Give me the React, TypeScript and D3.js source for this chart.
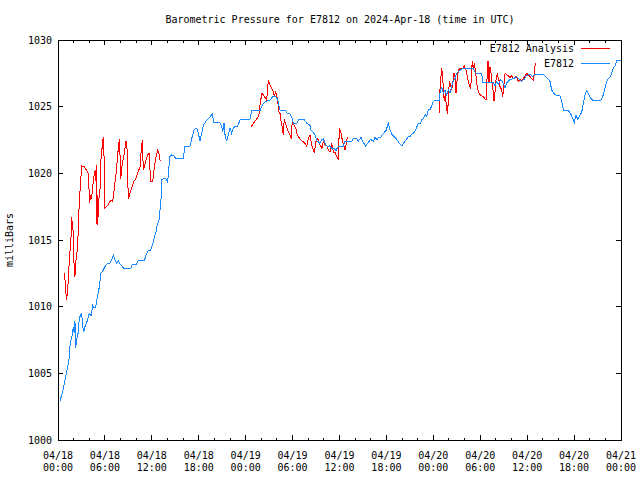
import React from "react";
import * as d3 from "d3";

// Time in hours since 2024-04-18 00:00 UTC; pressure in millibars
const stationHours = [
  0.26, 0.55, 0.9, 1.24, 1.41, 1.57, 1.75, 1.96, 2.08, 2.17, 2.26, 2.39, 2.6, 2.72, 2.94, 3.03, 3.16, 3.29, 3.45, 3.67,
  3.88, 4.0, 4.22, 4.44, 4.64, 4.82, 4.95, 5.15, 5.28, 5.5, 5.79, 6.01, 6.23, 6.65, 6.87, 7.07, 7.29, 7.51, 7.71, 7.93,
  8.15, 8.35, 9.34, 9.5, 10.06, 10.27, 11.04, 11.34, 11.55, 11.86, 12.06, 12.28, 12.53, 12.62, 12.92, 13.17, 13.26, 13.47, 13.81, 13.98,
  14.11, 14.2, 14.32, 14.54, 14.84, 15.05, 16.02, 16.24, 16.88, 17.1, 17.39, 17.74, 17.94, 18.16, 18.38, 18.58, 18.8, 19.02, 19.22, 19.53,
  19.73, 19.95, 20.72, 20.94, 21.06, 21.23, 21.36, 21.57, 21.78, 22.0, 22.21, 22.42, 22.64, 22.93, 23.28, 24.55, 24.77, 25.83, 26.05, 26.26,
  26.77, 27.11, 27.53, 27.84, 28.1, 28.39, 29.16, 29.33, 29.67, 29.96, 30.09, 30.53, 30.82, 31.46, 31.81, 32.23, 32.36, 32.65, 32.87, 33.09,
  33.51, 33.72, 33.93, 34.15, 34.44, 34.7, 35.0, 35.3, 35.55, 35.85, 36.49, 36.7, 37.56, 37.77, 38.2, 38.41, 38.75, 38.97, 39.35, 39.68,
  39.99, 40.32, 40.54, 40.8, 41.0, 41.27, 41.53, 41.95, 42.24, 42.46, 42.68, 42.97, 43.32, 43.65, 43.96, 44.16, 44.51, 44.8, 45.02, 45.23,
  45.53, 45.87, 46.08, 46.3, 46.51, 46.72, 46.94, 47.15, 47.36, 47.57, 47.79, 48.0, 48.21, 48.73, 48.85, 49.07, 49.28, 49.49, 49.71, 49.92,
  50.13, 50.35, 50.55, 50.77, 50.9, 51.07, 51.32, 51.63, 51.92, 53.11, 53.33, 53.46, 54.19, 54.32, 55.67, 55.89, 56.11, 56.31, 56.62, 56.95,
  57.17, 57.39, 57.81, 58.23, 58.66, 59.0, 59.3, 59.6, 59.85, 60.15, 60.45, 60.71, 61.0, 62.07, 62.28, 62.71, 62.92, 63.14, 63.34, 63.56,
  64.2, 64.42, 64.62, 65.26, 65.57, 65.77, 66.03, 66.25, 66.46, 66.67, 66.98, 67.18, 67.4, 67.61, 67.82, 68.04, 68.38, 69.44, 69.74, 69.96,
  70.17, 70.38, 70.6, 70.81, 71.02, 71.23, 71.45, 71.66, 71.97,
];
const stationMb = [
  1002.95, 1003.5, 1004.5, 1005.5, 1006.1, 1007.3, 1007.65, 1008.5, 1008.0, 1008.9, 1006.9, 1007.5, 1008.1, 1009.15, 1009.4, 1009.5, 1008.5, 1008.1, 1008.5, 1008.8,
  1009.25, 1009.5, 1009.3, 1010.1, 1009.9, 1010.0, 1010.5, 1011.0, 1011.5, 1012.5, 1012.75, 1013.0, 1013.2, 1013.25, 1013.5, 1013.9, 1013.5, 1013.25, 1013.45, 1013.2,
  1013.1, 1012.9, 1012.9, 1013.2, 1013.2, 1013.45, 1013.45, 1014.0, 1014.2, 1014.25, 1014.6, 1015.1, 1015.6, 1016.0, 1016.5, 1018.0, 1019.5, 1019.6, 1019.6, 1019.4,
  1019.75, 1020.6, 1021.25, 1021.4, 1021.3, 1021.1, 1021.1, 1022.0, 1022.05, 1022.6, 1023.25, 1023.4, 1023.0, 1022.45, 1023.0, 1023.6, 1023.8, 1024.0, 1024.1, 1024.3,
  1024.45, 1023.8, 1023.8, 1023.5, 1023.1, 1023.75, 1022.9, 1022.4, 1022.9, 1023.4, 1023.0, 1023.4, 1023.5, 1023.5, 1024.0, 1024.05, 1024.7, 1024.7, 1025.0, 1025.25,
  1025.45, 1025.5, 1025.8, 1025.8, 1025.5, 1024.75, 1024.7, 1024.5, 1024.45, 1024.1, 1023.75, 1023.75, 1024.05, 1024.05, 1023.75, 1023.6, 1023.25, 1023.05, 1022.9, 1022.45,
  1022.25, 1022.5, 1022.6, 1022.25, 1022.0, 1022.05, 1021.9, 1021.9, 1021.7, 1022.05, 1022.05, 1022.4, 1022.4, 1022.6, 1022.6, 1022.4, 1022.7, 1022.4, 1022.05, 1022.3,
  1022.55, 1022.4, 1022.7, 1022.5, 1022.7, 1022.7, 1022.95, 1023.2, 1023.75, 1023.25, 1022.95, 1022.75, 1022.55, 1022.25, 1022.05, 1022.25, 1022.5, 1022.75, 1022.75, 1022.95,
  1023.05, 1023.45, 1023.75, 1023.7, 1024.0, 1024.1, 1024.4, 1024.3, 1024.8, 1024.75, 1025.05, 1025.4, 1025.45, 1025.45, 1026.0, 1026.5, 1026.0, 1026.25, 1025.9, 1026.25,
  1026.0, 1026.55, 1026.9, 1027.1, 1027.4, 1027.55, 1027.7, 1027.8, 1027.9, 1027.9, 1027.6, 1027.5, 1027.5, 1026.8, 1026.8, 1026.55, 1026.9, 1026.7, 1027.05, 1026.75,
  1026.4, 1026.8, 1027.05, 1027.1, 1027.25, 1027.05, 1026.9, 1027.05, 1027.3, 1027.4, 1027.4, 1027.25, 1027.45, 1027.45, 1027.3, 1027.05, 1026.9, 1026.25, 1026.05, 1025.9,
  1025.8, 1025.4, 1024.75, 1024.7, 1024.45, 1024.2, 1023.8, 1024.4, 1024.05, 1024.25, 1024.6, 1025.25, 1025.9, 1026.2, 1026.0, 1025.7, 1025.5, 1025.5, 1025.9, 1026.4,
  1026.9, 1027.1, 1027.25, 1027.5, 1027.9, 1028.05, 1028.45, 1028.5, 1028.5,
];

// Analysis series, null marks a gap in the record
const analysisHours = [
  0.81, 0.9, 1.02, 1.11, 1.19, 1.32, 1.41, 1.53, 1.66, 1.75, 1.96, 2.05, 2.17, 2.26, 2.39, 2.52, 2.6, 2.72, 2.9, 3.03,
  3.33, 3.67, 3.88, 3.96, 4.05, 4.18, 4.31, 4.39, 4.51, 4.64, 4.77, 4.86, 4.9, 4.99, 5.08, 5.15, 5.24, 5.37, 5.5, 5.67,
  5.79, 5.88, 6.01, 6.23, 6.52, 6.78, 6.94, 7.07, 7.2, 7.38, 7.51, 7.63, 7.76, 7.84, 7.93, 8.02, 8.15, 8.27, 8.44, 8.57,
  8.7, 8.82, 8.91, 8.99, 9.21, 9.43, 9.72, 9.94, 10.19, 10.49, 10.61, 10.78, 10.91, 11.04, 11.22, 11.47, 11.64, 11.77, 11.89, 12.11,
  12.28, 12.49, 12.75, 12.88, 12.96, 13.08,
  18.0,
  24.68, 24.98, 25.32, 25.62, 25.74, 25.83, 25.96, 26.05, 26.26, 26.47, 26.69, 26.77, 26.9, 27.11, 27.33, 27.53, 27.66, 27.84, 27.97, 28.1,
  28.26, 28.39, 28.52, 28.69, 28.81, 28.94, 29.07, 29.25, 29.45, 29.67, 29.84, 29.96, 30.18, 30.4, 30.6, 30.95, 31.3, 31.59, 31.81, 32.01,
  32.23, 32.45, 32.65, 32.78, 33.0, 33.16, 33.29, 33.42, 33.6, 33.72, 33.85, 33.93, 34.15, 34.36, 34.57, 34.79, 35.0, 35.21, 35.43, 35.64,
  35.85, 35.98, 36.16, 36.36, 36.58, 36.7, 36.83, 37.0,
  42.0,
  48.73, 48.76, 48.94, 49.07, 49.2, 49.28, 49.4, 49.53, 49.66, 49.79, 49.92, 50.04, 50.22, 50.35, 50.48, 50.64, 50.77, 50.9, 51.07, 51.19,
  51.41, 51.83, 51.96, 52.18, 52.39, 52.6, 52.78, 52.91, 52.99, 53.11, 53.24, 53.42, 53.55, 53.76, 53.97, 54.39, 54.74, 54.9, 54.99, 55.12,
  55.25, 55.38, 55.5, 55.63, 55.76, 55.89, 56.02, 56.18, 56.31, 56.44, 56.53, 56.75, 56.87, 57.04, 57.17, 57.39, 57.59, 57.81, 58.02, 58.23,
  58.45, 58.66, 58.87, 59.08, 59.3, 59.51, 59.72, 59.94, 60.15, 60.36, 60.58, 60.79, 60.92, 61.04,
];
const analysisMb: (number | null)[] = [
  1012.55, 1012.0, 1011.0, 1010.5, 1011.0, 1012.0, 1013.05, 1014.1, 1015.1, 1016.7, 1015.5, 1013.25, 1012.25, 1013.4, 1013.75, 1014.9, 1015.75, 1017.9, 1019.4, 1020.55,
  1020.5, 1020.2, 1020.0, 1018.9, 1017.75, 1018.4, 1018.1, 1018.75, 1019.4, 1019.9, 1020.25, 1019.4, 1020.6, 1016.1, 1018.4, 1016.75, 1018.1, 1018.75, 1021.1, 1022.1,
  1022.75, 1021.4, 1017.4, 1017.5, 1017.75, 1018.0, 1017.9, 1018.1, 1018.9, 1019.75, 1020.5, 1021.4, 1022.1, 1022.55, 1021.4, 1019.6, 1020.4, 1020.9, 1021.4, 1021.9,
  1022.4, 1022.0, 1019.9, 1018.1, 1018.5, 1018.9, 1019.4, 1019.6, 1020.0, 1020.5, 1021.5, 1022.5, 1020.25, 1020.5, 1020.9, 1021.4, 1021.5, 1020.25, 1019.4, 1019.4,
  1020.25, 1021.1, 1021.75, 1021.6, 1021.25, 1020.9,
  null,
  1023.45, 1023.75, 1024.0, 1024.25, 1024.5, 1025.1, 1025.6, 1026.0, 1025.9, 1025.7, 1025.5, 1026.1, 1027.0, 1026.6, 1026.4, 1026.1, 1025.8, 1026.1, 1025.9, 1025.4,
  1024.6, 1024.5, 1023.9, 1023.4, 1022.9, 1024.1, 1023.75, 1023.5, 1023.1, 1022.9, 1022.6, 1024.0, 1023.6, 1023.4, 1022.9, 1022.55, 1022.4, 1022.25, 1022.05, 1022.6,
  1022.9, 1022.1, 1021.75, 1021.6, 1022.4, 1022.6, 1022.5, 1022.25, 1022.05, 1021.9, 1022.0, 1022.6, 1022.1, 1022.1, 1021.75, 1021.6, 1022.25, 1021.6, 1021.6, 1021.25,
  1021.0, 1023.4, 1023.1, 1022.5, 1022.0, 1021.75, 1022.1, 1022.75,
  null,
  1024.5, 1025.5, 1027.0, 1027.9, 1027.25, 1026.25, 1025.4, 1026.0, 1025.1, 1024.45, 1025.4, 1026.9, 1026.6, 1026.25, 1026.75, 1027.5, 1027.25, 1026.05, 1027.2, 1027.7,
  1027.9, 1027.9, 1028.05, 1027.75, 1027.1, 1026.6, 1026.3, 1027.9, 1028.45, 1027.75, 1028.25, 1027.5, 1026.75, 1026.1, 1025.9, 1025.75, 1025.5, 1027.5, 1028.45, 1026.75,
  1028.0, 1027.5, 1026.9, 1026.25, 1025.4, 1026.1, 1027.0, 1027.5, 1027.1, 1026.9, 1026.5, 1026.25, 1025.75, 1026.75, 1027.5, 1027.4, 1027.3, 1027.2, 1027.3, 1027.1,
  1027.25, 1027.2, 1026.9, 1027.05, 1026.95, 1027.1, 1027.3, 1027.5, 1027.4, 1027.25, 1027.1, 1027.0, 1027.5, 1028.3,
];

const xTickHours = [0, 6, 12, 18, 24, 30, 36, 42, 48, 54, 60, 66, 72];
const xTickDates = ["04/18", "04/18", "04/18", "04/18", "04/19", "04/19", "04/19", "04/19", "04/20", "04/20", "04/20", "04/20", "04/21"];
const xTickTimes = ["00:00", "06:00", "12:00", "18:00", "00:00", "06:00", "12:00", "18:00", "00:00", "06:00", "12:00", "18:00", "00:00"];
const yTicks = [1000, 1005, 1010, 1015, 1020, 1025, 1030];
const seriesNames = ["E7812 Analysis", "E7812"];
const seriesColors = ["#ff0000", "#1a88ff"];

const W = 640;
const H = 480;
const L = 58;
const R = 621;
const T = 40;
const B = 440;
const FONT = "'DejaVu Sans Mono', monospace";

export default function App() {
  const x = d3.scaleLinear().domain([0, 72]).range([L, R]);
  const y = d3.scaleLinear().domain([1000, 1030]).range([B, T]);

  const stationData = stationHours.map((h, i) => ({ h, v: stationMb[i] as number | null }));
  const analysisData = analysisHours.map((h, i) => ({ h, v: analysisMb[i] }));

  const line = d3
    .line<{ h: number; v: number | null }>()
    .defined((d) => d.v !== null)
    .x((d) => x(d.h))
    .y((d) => y(d.v as number));

  const minorHours = d3.range(0, 73, 2).filter((h) => h % 6 !== 0);

  return (
    <svg
      width={W}
      height={H}
      style={{ position: "absolute", left: 0, top: 0, background: "#fff" }}
      fontFamily={FONT}
      fontSize={10}
    >
      <rect x={0} y={0} width={W} height={H} fill="#fff" />
      {/* ticks */}
      <g stroke="#000" strokeWidth={1} shapeRendering="crispEdges">
        {xTickHours.map((h) => (
          <g key={"xt" + h}>
            <line x1={x(h)} x2={x(h)} y1={B} y2={B - 5} />
            <line x1={x(h)} x2={x(h)} y1={T} y2={T + 5} />
          </g>
        ))}
        {minorHours.map((h) => (
          <g key={"xm" + h}>
            <line x1={x(h)} x2={x(h)} y1={B} y2={B - 2.5} />
            <line x1={x(h)} x2={x(h)} y1={T} y2={T + 2.5} />
          </g>
        ))}
        {yTicks.map((v) => (
          <g key={"yt" + v}>
            <line x1={L} x2={L + 5} y1={y(v)} y2={y(v)} />
            <line x1={R} x2={R - 5} y1={y(v)} y2={y(v)} />
          </g>
        ))}
      </g>
      {/* series */}
      <path
        d={line(analysisData) || ""}
        fill="none"
        stroke={seriesColors[0]}
        strokeWidth={1}
        shapeRendering="crispEdges"
      />
      <path
        d={line(stationData) || ""}
        fill="none"
        stroke={seriesColors[1]}
        strokeWidth={1}
        shapeRendering="crispEdges"
      />
      {/* frame */}
      <rect
        x={L}
        y={T}
        width={R - L}
        height={B - T}
        fill="none"
        stroke="#000"
        strokeWidth={1}
        shapeRendering="crispEdges"
      />
      {/* y labels */}
      {yTicks.map((v) => (
        <text key={"yl" + v} x={52} y={y(v)} dy="0.35em" textAnchor="end" fill="#000">
          {v}
        </text>
      ))}
      {/* x labels */}
      {xTickHours.map((h, i) => (
        <g key={"xl" + h}>
          <text x={x(h)} y={459} textAnchor="middle" fill="#000">
            {xTickDates[i]}
          </text>
          <text x={x(h)} y={471} textAnchor="middle" fill="#000">
            {xTickTimes[i]}
          </text>
        </g>
      ))}
      {/* title */}
      <text x={340} y={23} textAnchor="middle" fill="#000">
        Barometric Pressure for E7812 on 2024-Apr-18 (time in UTC)
      </text>
      {/* y axis title */}
      <text transform="translate(13,240) rotate(-90)" textAnchor="middle" fill="#000">
        milliBars
      </text>
      {/* legend */}
      {seriesNames.map((name, i) => (
        <g key={name}>
          <text x={574} y={48 + i * 15} dy="0.35em" textAnchor="end" fill="#000">
            {name}
          </text>
          <line
            x1={581}
            x2={610}
            y1={48 + i * 15}
            y2={48 + i * 15}
            stroke={seriesColors[i]}
            strokeWidth={1}
            shapeRendering="crispEdges"
          />
        </g>
      ))}
    </svg>
  );
}
